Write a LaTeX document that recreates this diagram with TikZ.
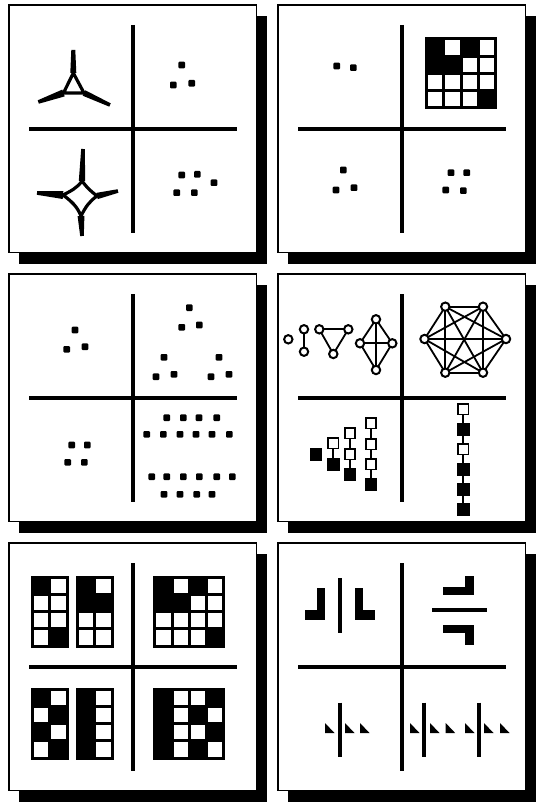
\documentclass[tikz,border=0pt]{standalone}
\usetikzlibrary{calc}
\tikzset{
  panelframe/.style={draw=black, line width=0.75pt, fill=white},
  panelshadow/.style={fill=black},
  crossline/.style={line width=2pt},
  gnode/.style={circle, draw, fill=white, line width=1pt, minimum size=4.2pt, inner sep=0pt},
  gedge/.style={line width=0.9pt},
  wsq/.style={rectangle, draw, fill=white, line width=0.9pt, minimum size=5.1pt, inner sep=0pt},
  bsq/.style={rectangle, fill=black, minimum size=6.2pt, inner sep=0pt},
  curveline/.style={line width=1.6pt, line join=round},
}
\newcommand\panelbase{%
  \fill[panelshadow] (10,11) rectangle (257.5,258.5);
  \draw[panelframe] (0,0) rectangle (247.5,247.5);
  \draw[crossline] (124,20) -- (124,228);
  \draw[crossline] (20,124) -- (228,124);}
\newcommand\pdot[2]{\fill[rounded corners=0.5pt] ({#1-3.3},{#2-3.3}) rectangle ++(6.6,6.6);}
\newcommand\pixgrid[5]{%
  \fill ({#1},{#2}) rectangle ++({3+#3*17.25},{3+#4*17.25});
  \foreach \cx/\ry in {#5} {\fill[white] ({#1+3+\cx*17.25},{#2+3+\ry*17.25}) rectangle ++(14.25,14.25);}}
\newcommand\taper[4]{\fill ($(#1)!#3!90:(#2)$) -- ($(#2)!#4!-90:(#1)$) -- ($(#2)!#4!90:(#1)$) -- ($(#1)!#3!-90:(#2)$) -- cycle;}
\newcommand\ptri[1]{\fill (#1,180) -- (#1,190) -- ({#1+9.5},190) -- cycle;}
\begin{document}
\begin{tikzpicture}[x=0.5pt,y=-0.5pt]
\useasboundingbox (0,0) rectangle (539,802);
\fill[white] (0,0) rectangle (539,802);

% ---------- Panel 1 ----------
\begin{scope}[shift={(9,5)}]
  \panelbase
  % deltoid
  \coordinate (dA) at (64.3,68);
  \coordinate (dL) at (54.5,88);
  \coordinate (dR) at (75,88);
  \coordinate (dAt) at (64.3,45);
  \coordinate (dLt) at (29.3,97);
  \coordinate (dRt) at (101,100);
  \draw[curveline] (dA) -- (dL) -- (dR) -- cycle;
  \taper{dA}{dAt}{1.5pt}{1.0pt}
  \taper{dL}{dLt}{1.8pt}{0.9pt}
  \taper{dR}{dRt}{1.5pt}{0.9pt}
  % astroid
  \coordinate (aT) at (73,176);
  \coordinate (aB) at (72,211);
  \coordinate (aL) at (54,190);
  \coordinate (aR) at (88,191);
  \coordinate (aTt) at (74,144);
  \coordinate (aBt) at (73,231);
  \coordinate (aLt) at (28,188);
  \coordinate (aRt) at (109,186);
  \draw[curveline] (aT) .. controls (79,184) and (83,187) .. (aR)
                        .. controls (81,196) and (77,201) .. (aB)
                        .. controls (68,201) and (62,196) .. (aL)
                        .. controls (62,186) and (68,183) .. cycle;
  \taper{aT}{aTt}{1.6pt}{0.9pt}
  \taper{aB}{aBt}{1.7pt}{0.9pt}
  \taper{aL}{aLt}{2.0pt}{0.9pt}
  \taper{aR}{aRt}{1.6pt}{0.9pt}
  % dots
  \pdot{172.7}{60}\pdot{164.3}{80}\pdot{182.7}{78.3}
  \pdot{172.7}{170}\pdot{188.3}{169.3}\pdot{205}{177.7}\pdot{167.7}{187.7}\pdot{185.3}{187.7}
\end{scope}

% ---------- Panel 2 ----------
\begin{scope}[shift={(278,5)}]
  \panelbase
  \pdot{58.7}{61}\pdot{75.3}{62.7}
  \pixgrid{147}{32.5}{4}{4}{1/0,3/0,2/1,3/1,0/2,1/2,2/2,3/2,0/3,1/3,2/3}
  \pdot{65.3}{165}\pdot{58}{185}\pdot{76}{182.7}
  \pdot{173}{167.7}\pdot{188.7}{167.7}\pdot{167.7}{185}\pdot{185.3}{185.7}
\end{scope}

% ---------- Panel 3 ----------
\begin{scope}[shift={(9,274)}]
  \panelbase
  \pdot{66}{56}\pdot{57.7}{75.3}\pdot{76}{72.7}
  \pdot{180.3}{33.7}\pdot{172.7}{53.3}\pdot{190.3}{51}
  \pdot{155}{83.3}\pdot{147}{102.7}\pdot{165}{100.3}
  \pdot{210}{83.3}\pdot{202}{102.7}\pdot{220}{100.3}
  \pdot{62.7}{171}\pdot{78.3}{171}\pdot{58.7}{188.3}\pdot{75.3}{188.3}
  \foreach \xx in {157.7,174.3,190,207.7} {\pdot{\xx}{143.7}}
  \foreach \xx in {137.7,154.3,171,187,203,220.3} {\pdot{\xx}{160.3}}
  \foreach \xx in {142.7,157.7,174.3,190.3,207.7,223.3} {\pdot{\xx}{202.7}}
  \foreach \xx in {155,171,187.7,203} {\pdot{\xx}{220.3}}
\end{scope}

% ---------- Panel 4 ----------
\begin{scope}[shift={(278,274)}]
  \panelbase
  % small graphs
  \coordinate (s1) at (10.3,65.3);
  \coordinate (p1) at (26,55.3);
  \coordinate (p2) at (26,77.7);
  \coordinate (t1) at (41.3,55.3);
  \coordinate (t2) at (70.3,55.3);
  \coordinate (t3) at (55.3,80);
  \coordinate (k1) at (98,45.3);
  \coordinate (k2) at (82,69.3);
  \coordinate (k3) at (114.3,69.3);
  \coordinate (k4) at (98,96);
  \foreach \a/\b in {p1/p2,t1/t2,t2/t3,t3/t1,k1/k2,k1/k3,k1/k4,k2/k3,k2/k4,k3/k4}
    {\draw[gedge] (\a) -- (\b);}
  % K6
  \coordinate (h1) at (167.3,32.7);
  \coordinate (h2) at (205,32.7);
  \coordinate (h3) at (228,65);
  \coordinate (h4) at (205,98.7);
  \coordinate (h5) at (167.3,98.7);
  \coordinate (h6) at (146.5,65);
  \foreach \a/\b in {h1/h2,h1/h3,h1/h4,h1/h5,h1/h6,h2/h3,h2/h4,h2/h5,h2/h6,h3/h4,h3/h5,h3/h6,h4/h5,h4/h6,h5/h6}
    {\draw[gedge] (\a) -- (\b);}
  % nodes on top
  \foreach \n in {s1,p1,p2,t1,t2,t3,k1,k2,k3,k4,h1,h2,h3,h4,h5,h6}
    {\node[gnode] (\n n) at (\n) {};}
  % chains bottom-left
  \node[bsq] (c1a) at (37.7,180.3) {};
  \node[wsq] (c2a) at (55.3,169.3) {};
  \node[bsq] (c2b) at (55.3,190.3) {};
  \node[wsq] (c3a) at (72,159.3) {};
  \node[wsq] (c3b) at (72,180.3) {};
  \node[bsq] (c3c) at (72,200.3) {};
  \node[wsq] (c4a) at (92.7,149.3) {};
  \node[wsq] (c4b) at (92.7,170.3) {};
  \node[wsq] (c4c) at (92.7,190.3) {};
  \node[bsq] (c4d) at (92.7,210.3) {};
  \foreach \a/\b in {c2a/c2b,c3a/c3b,c3b/c3c,c4a/c4b,c4b/c4c,c4c/c4d}
    {\draw[gedge] (\a) -- (\b);}
  % chain bottom-right
  \node[wsq] (v1) at (185.3,135.3) {};
  \node[bsq] (v2) at (185.3,155.3) {};
  \node[wsq] (v3) at (185.3,175.3) {};
  \node[bsq] (v4) at (185.3,195.3) {};
  \node[bsq] (v5) at (185.3,215.3) {};
  \node[bsq] (v6) at (185.3,235.3) {};
  \foreach \a/\b in {v1/v2,v2/v3,v3/v4,v4/v5,v5/v6}
    {\draw[gedge] (\a) -- (\b);}
\end{scope}

% ---------- Panel 5 ----------
\begin{scope}[shift={(9,543)}]
  \panelbase
  \pixgrid{22}{32.7}{2}{4}{1/0,0/1,1/1,0/2,1/2,0/3}
  \pixgrid{67}{32.7}{2}{4}{1/0,0/2,1/2,0/3,1/3}
  \pixgrid{144.3}{32.7}{4}{4}{1/0,3/0,2/1,3/1,0/2,1/2,2/2,3/2,0/3,1/3,2/3}
  \pixgrid{22}{144.7}{2}{4}{1/0,0/1,1/2,0/3}
  \pixgrid{67}{144.7}{2}{4}{1/0,1/1,1/2,1/3}
  \pixgrid{144.3}{144.7}{4}{4}{1/0,2/0,1/1,3/1,1/2,2/2,1/3,3/3}
\end{scope}

% ---------- Panel 6 ----------
\begin{scope}[shift={(278,543)}]
  \panelbase
  % top-left
  \fill (39.3,45.3) rectangle (47,77);
  \fill (27,67) rectangle (47,77);
  \draw[crossline] (62,35.3) -- (62,89.7);
  \fill (77,45.3) rectangle (84.7,77);
  \fill (77,67) rectangle (97,77);
  % top-right
  \fill (187,33) rectangle (196.3,52);
  \fill (164.7,44.3) rectangle (196.3,52);
  \draw[crossline] (154.3,67) -- (208.7,67);
  \fill (164.7,82) rectangle (196.3,90.3);
  \fill (187,82) rectangle (196.3,102);
  % bottom-left
  \draw[crossline] (62,159.7) -- (62,213.7);
  \ptri{47}\ptri{67}\ptri{82}
  % bottom-right
  \draw[crossline] (146.3,159.7) -- (146.3,213.7);
  \ptri{132}\ptri{152}\ptri{167.7}
  \draw[crossline] (201.3,159.7) -- (201.3,213.7);
  \ptri{187}\ptri{206}\ptri{222}
\end{scope}
\end{tikzpicture}
\end{document}
